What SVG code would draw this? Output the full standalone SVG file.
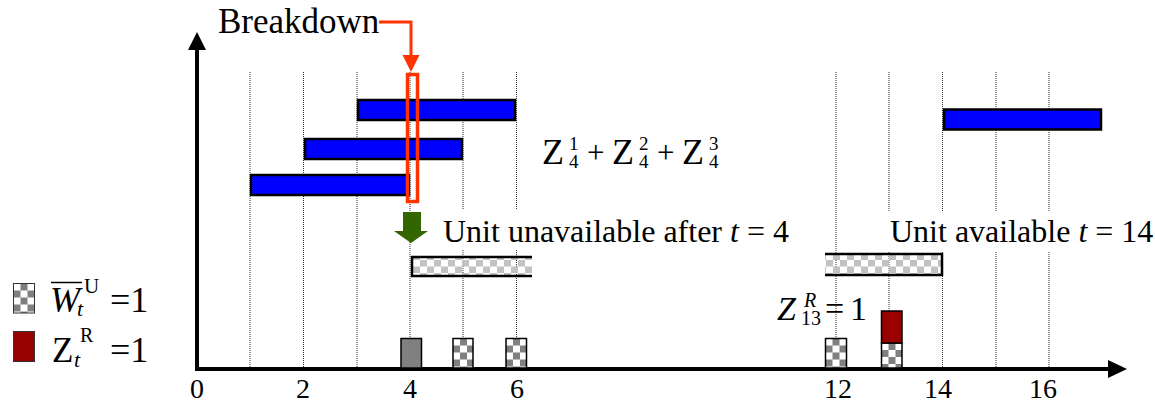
<svg xmlns="http://www.w3.org/2000/svg" width="1155" height="402" viewBox="0 0 1155 402">
<style>
.t{font-family:"Liberation Serif","Times New Roman",serif;fill:#000}
.it{font-style:italic}
.grid{stroke:#333;stroke-width:1;stroke-dasharray:1 1}
.bar{fill:#0000ff;stroke:#000;stroke-width:2.5}
.box{stroke:#000;stroke-width:1.5}
.ax{stroke:#000;stroke-width:4;fill:none}
</style>
<defs>
<pattern id="chkLight" patternUnits="userSpaceOnUse" width="14" height="13">
<rect width="7" height="6.5" fill="#c2c2c2"/><rect x="7" y="6.5" width="7" height="6.5" fill="#c2c2c2"/>
</pattern>
<pattern id="chkDark" patternUnits="userSpaceOnUse" width="14" height="14">
<rect width="14" height="14" fill="#fff"/><rect x="7" width="7" height="7" fill="#808080"/><rect y="7" width="7" height="7" fill="#808080"/>
</pattern>
</defs>
<rect width="1155" height="402" fill="#fff"/>

<g id="gridlines">
<line class="grid" x1="250" y1="72" x2="250" y2="367"/>
<line class="grid" x1="303.5" y1="72" x2="303.5" y2="367"/>
<line class="grid" x1="357" y1="72" x2="357" y2="367"/>
<line class="grid" x1="410" y1="72" x2="410" y2="367"/>
<line class="grid" x1="463" y1="72" x2="463" y2="367"/>
<line class="grid" x1="516.5" y1="72" x2="516.5" y2="367"/>
<line class="grid" x1="836" y1="72" x2="836" y2="367"/>
<line class="grid" x1="889" y1="72" x2="889" y2="367"/>
<line class="grid" x1="942.5" y1="72" x2="942.5" y2="367"/>
<line class="grid" x1="996" y1="72" x2="996" y2="367"/>
<line class="grid" x1="1049" y1="72" x2="1049" y2="367"/>
</g>

<g id="axes">
<line class="ax" x1="197" y1="371" x2="197" y2="46"/>
<polygon points="197,32 188,50 206,50" fill="#000"/>
<line class="ax" x1="195" y1="369" x2="1112" y2="369"/>
<polygon points="1127,369 1108,360 1108,378" fill="#000"/>
</g>

<g id="axis-labels" class="t" font-size="28" text-anchor="middle">
<text x="197" y="398">0</text>
<text x="303" y="398">2</text>
<text x="410" y="398">4</text>
<text x="517" y="398">6</text>
<text x="838" y="398">12</text>
<text x="938" y="398">14</text>
<text x="1043" y="398">16</text>
</g>

<g id="job-bars">
<rect class="bar" x="358" y="100" width="157" height="20"/>
<rect class="bar" x="305" y="139" width="157" height="20"/>
<rect class="bar" x="251" y="175" width="158" height="20"/>
<rect class="bar" x="944" y="109.5" width="157" height="20"/>
</g>

<g id="breakdown-box">
<rect x="407.5" y="74.5" width="10" height="127" fill="none" stroke="#ff3300" stroke-width="3.5"/>
</g>

<g id="label-breakdown">
<text class="t" x="218" y="33" font-size="35">Breakdown</text>
</g>

<g id="formula">
<text class="t" font-size="36" y="164">
<tspan x="542">Z</tspan><tspan x="612">Z</tspan><tspan x="682">Z</tspan>
</text>
<text class="t" font-size="31" y="163"><tspan x="587">+</tspan><tspan x="657">+</tspan></text>
<text class="t" font-size="19">
<tspan x="569" y="150">1</tspan><tspan x="569" y="168">4</tspan>
<tspan x="639" y="150">2</tspan><tspan x="639" y="168">4</tspan>
<tspan x="709" y="150">3</tspan><tspan x="709" y="168">4</tspan>
</text>
</g>

<g id="label-unavailable">
<rect x="440" y="210" width="352" height="40" fill="#fff"/>
<text class="t" x="443" y="242" font-size="32">Unit unavailable after <tspan class="it">t</tspan> = 4</text>
</g>

<g id="label-available">
<rect x="886" y="212" width="269" height="40" fill="#fff"/>
<text class="t" x="890" y="242" font-size="32">Unit available <tspan class="it">t</tspan> = 14</text>
</g>

<g id="unavail-bar-1">
<rect x="412" y="257" width="120" height="19" fill="url(#chkLight)"/>
<path d="M532,257 H412 V276 H532" fill="none" stroke="#000" stroke-width="2.5"/>
</g>
<g id="unavail-bar-2">
<rect x="825" y="254" width="117" height="21" fill="url(#chkLight)"/>
<path d="M825,254 H942 V275 H825" fill="none" stroke="#000" stroke-width="2.5"/>
</g>

<g id="box-t4"><rect class="box" x="401" y="338.5" width="20.5" height="29.5" fill="#808080"/></g>
<g id="box-t5" transform="translate(453,338.5)"><rect class="box" width="20" height="29.5" fill="url(#chkDark)"/></g>
<g id="box-t6" transform="translate(506,338.5)"><rect class="box" width="20.5" height="29.5" fill="url(#chkDark)"/></g>
<g id="box-t12" transform="translate(825.5,338.5)"><rect class="box" width="21" height="29.5" fill="url(#chkDark)"/></g>
<g id="box-t13" transform="translate(881.5,343)"><rect class="box" width="20.5" height="25" fill="url(#chkDark)"/></g>
<g id="box-t13-repair"><rect class="box" x="881.5" y="311" width="20.5" height="32" fill="#990000"/></g>

<g id="label-z13">
<text class="t" font-size="34" y="320"><tspan x="777" class="it">Z</tspan><tspan x="825">=</tspan><tspan x="850">1</tspan></text>
<text class="t" font-size="20"><tspan x="804" y="307" class="it">R</tspan><tspan x="801" y="325">13</tspan></text>
</g>

<g id="legend-unavailable">
<g transform="translate(13.5,283.5)"><rect width="21" height="29.5" fill="url(#chkDark)" stroke="#333" stroke-width="1"/></g>
<text class="t it" x="50" y="312" font-size="36">W</text>
<line x1="51" y1="282.5" x2="82" y2="282.5" stroke="#000" stroke-width="1.5"/>
<text class="t it" x="77" y="316" font-size="22">t</text>
<text class="t" x="84" y="293" font-size="21">U</text>
<text class="t" x="110" y="312" font-size="36">=1</text>
</g>

<g id="legend-repair">
<rect x="13.5" y="331.5" width="21" height="30" fill="#990000" stroke="#333" stroke-width="1"/>
<text class="t" x="52" y="362" font-size="35">Z</text>
<text class="t it" x="74" y="367" font-size="22">t</text>
<text class="t" x="80" y="342" font-size="20">R</text>
<text class="t" x="110" y="362" font-size="36">=1</text>
</g>

<g id="connectors">
<polyline points="379,22 411,22 411,57" fill="none" stroke="#ff3300" stroke-width="3"/>
<polygon points="402.5,55 419.5,55 411,72" fill="#ff3300"/>
<polygon points="403,212 421,212 421,231 428,231 411,243 394,231 403,231" fill="#336600"/>
</g>
</svg>
